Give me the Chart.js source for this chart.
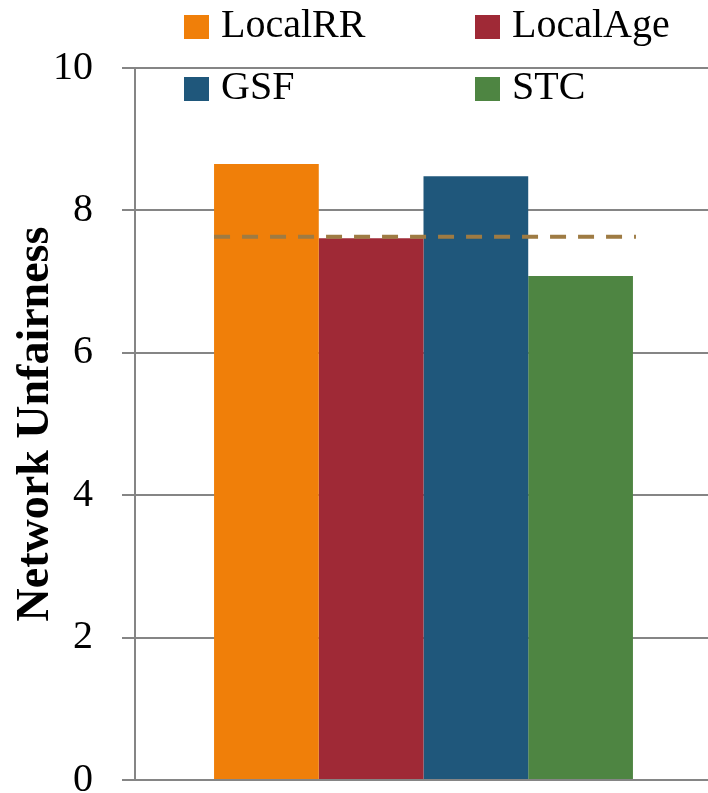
<!DOCTYPE html>
<html>
<head>
<meta charset="utf-8">
<script src="https://cdn.jsdelivr.net/npm/chart.js@4/dist/chart.umd.min.js"></script>
<style>
  html, body { margin: 0; padding: 0; background: #ffffff; overflow: hidden; }
  #wrap { width: 708px; height: 793px; position: relative; overflow: hidden; }
</style>
</head>
<body>
<div id="wrap"><canvas id="c" width="712" height="793"></canvas></div>
<script>
// Scheduling policies compared on one workload
const categories = [''];
const seriesNames = ['LocalRR', 'LocalAge', 'GSF', 'STC'];
const seriesValues = [8.65, 7.61, 8.48, 7.08];
const seriesColors = ['#F07F09', '#9F2936', '#1F577B', '#4E8542'];
// Dashed reference level drawn across the bar group
const referenceLevel = [7.63];
const yTicks = [0, 2, 4, 6, 8, 10];
const yTitle = 'Network Unfairness';

const serif = "'Liberation Serif', 'DejaVu Serif', serif";
const gridGray = '#858585';

const datasets = seriesNames.map((name, i) => ({
  label: name,
  data: [seriesValues[i]],
  backgroundColor: seriesColors[i],
  borderWidth: 0,
  categoryPercentage: 0.726,
  barPercentage: 1.0
}));

// Two-column legend laid over the top of the plot
const legendPlugin = {
  id: 'gridLegend',
  afterDraw(chart) {
    const ctx = chart.ctx;
    const cols = [184, 475];
    const rows = [15, 77];
    ctx.save();
    ctx.font = '40px ' + serif;
    ctx.textBaseline = 'alphabetic';
    ctx.textAlign = 'left';
    chart.data.datasets.forEach((ds, i) => {
      const x = cols[i % 2];
      const y = rows[Math.floor(i / 2)];
      ctx.fillStyle = ds.backgroundColor;
      ctx.fillRect(x, y, 25, 24);
      ctx.fillStyle = '#000000';
      ctx.fillText(ds.label, x + 37, y + 22);
    });
    ctx.restore();
  }
};

// Horizontal dashed reference line spanning the bars
const referencePlugin = {
  id: 'referenceLine',
  afterDatasetsDraw(chart) {
    const yScale = chart.scales.y;
    const first = chart.getDatasetMeta(0).data[0];
    const last = chart.getDatasetMeta(chart.data.datasets.length - 1).data[0];
    if (!first || !last) return;
    const x0 = first.x - first.width / 2;
    const x1 = last.x + last.width / 2 + 3;
    const y = yScale.getPixelForValue(referenceLevel[0]);
    const ctx = chart.ctx;
    ctx.save();
    ctx.strokeStyle = '#9E7B43';
    ctx.lineWidth = 4;
    ctx.setLineDash([16, 12]);
    ctx.beginPath();
    ctx.moveTo(x0, y);
    ctx.lineTo(x1, y);
    ctx.stroke();
    ctx.restore();
  }
};

new Chart(document.getElementById('c'), {
  type: 'bar',
  data: { labels: categories, datasets },
  options: {
    responsive: false,
    animation: false,
    layout: { padding: { top: 68, bottom: 13, left: 0, right: 0 } },
    plugins: {
      legend: { display: false },
      tooltip: { enabled: false }
    },
    scales: {
      x: { display: false },
      y: {
        min: 0,
        max: 10,
        afterFit(scale) {
          scale.width = 135;
          scale.paddingTop = 0;
          scale.paddingBottom = 0;
        },
        afterBuildTicks(scale) { scale.ticks = yTicks.map(v => ({ value: v })); },
        ticks: {
          font: { family: serif, size: 40 },
          color: '#000000',
          padding: 29
        },
        grid: {
          color: gridGray,
          lineWidth: 2,
          tickLength: 13,
          tickColor: gridGray
        },
        border: { display: true, color: gridGray, width: 2 },
        title: {
          display: true,
          text: yTitle,
          color: '#000000',
          font: { family: serif, size: 46, weight: 'bold' },
          padding: { top: 9, bottom: 0 }
        }
      }
    }
  },
  plugins: [referencePlugin, legendPlugin]
});
</script>
</body>
</html>
